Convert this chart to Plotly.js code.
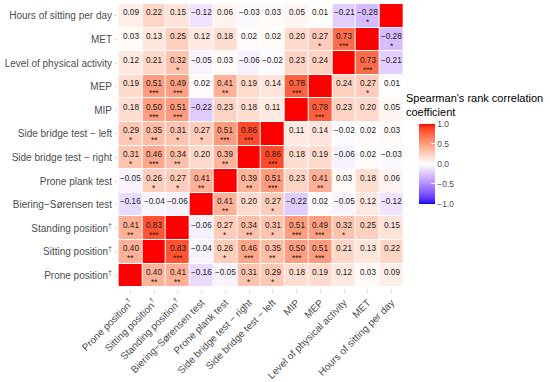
<!DOCTYPE html>
<html>
<head>
<meta charset="utf-8">
<script src="https://cdn.plot.ly/plotly-3.0.1.min.js"></script>
<style>html,body{margin:0;padding:0;background:#fff;}#chart{width:550px;height:382px;}</style>
</head>
<body>
<div id="chart"></div>
<script>
// Variables (bottom-to-top on y, left-to-right on x)
const variables = [
  "Prone position<sup>†</sup>", "Sitting position<sup>†</sup>", "Standing position<sup>†</sup>",
  "Biering−Sørensen test", "Prone plank test", "Side bridge test − right", "Side bridge test − left",
  "MIP", "MEP", "Level of physical activity", "MET", "Hours of sitting per day"
];

// Spearman's rho, one row per variable (same order as variables)
const rho = [
  [1, 0.40, 0.41, -0.16, -0.05, 0.31, 0.29, 0.18, 0.19, 0.12, 0.03, 0.09],
  [0.40, 1, 0.83, -0.04, 0.26, 0.46, 0.35, 0.50, 0.51, 0.21, 0.13, 0.22],
  [0.41, 0.83, 1, -0.06, 0.27, 0.34, 0.31, 0.51, 0.49, 0.32, 0.25, 0.15],
  [-0.16, -0.04, -0.06, 1, 0.41, 0.20, 0.27, -0.22, 0.02, -0.05, 0.12, -0.12],
  [-0.05, 0.26, 0.27, 0.41, 1, 0.39, 0.51, 0.23, 0.41, 0.03, 0.18, 0.06],
  [0.31, 0.46, 0.34, 0.20, 0.39, 1, 0.86, 0.18, 0.19, -0.06, 0.02, -0.03],
  [0.29, 0.35, 0.31, 0.27, 0.51, 0.86, 1, 0.11, 0.14, -0.02, 0.02, 0.03],
  [0.18, 0.50, 0.51, -0.22, 0.23, 0.18, 0.11, 1, 0.78, 0.23, 0.20, 0.05],
  [0.19, 0.51, 0.49, 0.02, 0.41, 0.19, 0.14, 0.78, 1, 0.24, 0.27, 0.01],
  [0.12, 0.21, 0.32, -0.05, 0.03, -0.06, -0.02, 0.23, 0.24, 1, 0.73, -0.21],
  [0.03, 0.13, 0.25, 0.12, 0.18, 0.02, 0.02, 0.20, 0.27, 0.73, 1, -0.28],
  [0.09, 0.22, 0.15, -0.12, 0.06, -0.03, 0.03, 0.05, 0.01, -0.21, -0.28, 1]
];

// Significance stars
const sig = [
  ["", "**", "**", "", "", "*", "*", "", "", "", "", ""],
  ["**", "", "***", "", "*", "***", "**", "***", "***", "", "", ""],
  ["**", "***", "", "", "*", "**", "*", "***", "***", "*", "", ""],
  ["", "", "", "", "**", "", "*", "", "", "", "", ""],
  ["", "*", "*", "**", "", "**", "***", "", "**", "", "", ""],
  ["*", "***", "**", "", "**", "", "***", "", "", "", "", ""],
  ["*", "**", "*", "*", "***", "***", "", "", "", "", "", ""],
  ["", "***", "***", "", "", "", "", "", "***", "", "", ""],
  ["", "***", "***", "", "**", "", "", "***", "", "", "*", ""],
  ["", "", "*", "", "", "", "", "", "", "", "***", ""],
  ["", "", "", "", "", "", "", "", "*", "***", "", "*"],
  ["", "", "", "", "", "", "", "", "", "", "*", ""]
];

const colorbarTitle = "Spearman's rank correlation<br>coefficient";

// Diverging blue-white-red scale interpolated in CIE Lab (like ggplot's gradient2)
function lab2rgb(L, a, b) {
  let y = (L + 16) / 116, x = a / 500 + y, z = y - b / 200;
  const f = t => (t * t * t > 0.008856 ? t * t * t : (t - 16 / 116) / 7.787);
  x = 0.95047 * f(x); y = 1.0 * f(y); z = 1.08883 * f(z);
  let r = x * 3.2406 + y * -1.5372 + z * -0.4986;
  let g = x * -0.9689 + y * 1.8758 + z * 0.0415;
  let bb = x * 0.0557 + y * -0.2040 + z * 1.0570;
  const gam = c => (c > 0.0031308 ? 1.055 * Math.pow(c, 1 / 2.4) - 0.055 : 12.92 * c);
  const cl = c => Math.max(0, Math.min(255, Math.round(gam(c) * 255)));
  return `rgb(${cl(r)},${cl(g)},${cl(bb)})`;
}
const labBlue = [32.30, 79.19, -107.86], labWhite = [100, 0, 0], labRed = [53.24, 80.09, 67.20];
const colorscale = [];
const N = 40;
for (let i = 0; i <= N; i++) {
  const v = -1 + 2 * i / N;
  const end = v < 0 ? labBlue : labRed;
  const t = Math.abs(v);
  const L = labWhite[0] + (end[0] - labWhite[0]) * t;
  const A = labWhite[1] + (end[1] - labWhite[1]) * t;
  const B = labWhite[2] + (end[2] - labWhite[2]) * t;
  colorscale.push([i / N, lab2rgb(L, A, B)]);
}

const fmt = v => v.toFixed(2).replace("-", "−");
const textFont = {family: "Liberation Sans, Arial, sans-serif", size: 8.2, color: "#1a1a1a"};

const annotations = [];
for (let i = 0; i < variables.length; i++) {
  for (let j = 0; j < variables.length; j++) {
    if (i === j) continue;
    annotations.push({x: variables[j], y: variables[i], xref: "x", yref: "y", text: fmt(rho[i][j]),
      showarrow: false, font: textFont, yshift: 3});
    if (sig[i][j]) {
      annotations.push({x: variables[j], y: variables[i], xref: "x", yref: "y", text: sig[i][j],
        showarrow: false, font: textFont, yshift: -7});
    }
  }
}
annotations.push({
  x: 1.0, y: 0.70, xref: "paper", yref: "paper", xanchor: "left", yanchor: "top", align: "left",
  text: colorbarTitle, showarrow: false,
  font: {family: "Liberation Sans, Arial, sans-serif", size: 11, color: "#000"}
});

const trace = {
  type: "heatmap",
  x: variables, y: variables, z: rho,
  zmin: -1, zmax: 1,
  colorscale: colorscale,
  xgap: 1, ygap: 1,
  hoverinfo: "skip",
  colorbar: {
    x: 1.052, xanchor: "left", xpad: 0,
    y: 0.44, yanchor: "middle", ypad: 0,
    thickness: 16, len: 80, lenmode: "pixels",
    outlinewidth: 0,
    tickvals: [-1, -0.5, 0, 0.5, 1], ticktext: ["−1.0", "−0.5", "0.0", "0.5", "1.0"],
    ticks: "inside", ticklen: 4, tickcolor: "#ffffff", tickwidth: 1,
    tickfont: {family: "Liberation Sans, Arial, sans-serif", size: 8.5, color: "#4d4d4d"}
  }
};

const axisFont = {family: "Liberation Sans, Arial, sans-serif", size: 10, color: "#4d4d4d"};
const layout = {
  width: 550, height: 382,
  margin: {l: 118, r: 146, t: 4, b: 93},
  paper_bgcolor: "#ffffff", plot_bgcolor: "#ffffff",
  xaxis: {type: "category", tickangle: -45, tickfont: axisFont, ticks: "outside", ticklen: 3,
          tickcolor: "#dddddd", showgrid: false, zeroline: false, showline: false, fixedrange: true},
  yaxis: {type: "category", tickfont: axisFont, ticks: "outside", ticklen: 3,
          tickcolor: "#dddddd", showgrid: false, zeroline: false, showline: false, fixedrange: true},
  annotations: annotations,
  showlegend: false
};

Plotly.newPlot("chart", [trace], layout, {displayModeBar: false, staticPlot: true});
</script>
</body>
</html>
